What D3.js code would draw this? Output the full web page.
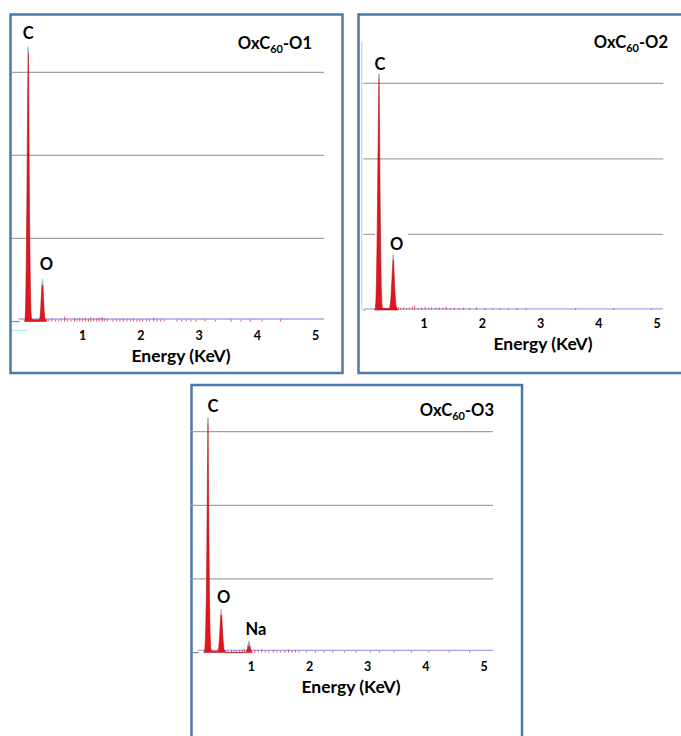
<!DOCTYPE html>
<html><head><meta charset="utf-8">
<script src="https://cdn.jsdelivr.net/npm/d3@7"></script>
<style>
body{margin:0;background:#fff}
svg{display:block}
text{font-family:Lato,"Open Sans",sans-serif;font-weight:700;fill:#000}
</style>
</head><body>
<svg id="chart" width="681" height="736"></svg>
<script>
// ---------- data ----------
const energyTicks = [1, 2, 3, 4, 5];
const gridCounts = [1000, 2000, 3000];
const sampleNames = ["O1", "O2", "O3"];
const axisTitle = "Energy (KeV)";

// spectra: [energy keV, counts]
const spectrumO1 = [[0.0,0],[0.01,20],[0.018,140],[0.026,480],[0.034,950],[0.042,1550],[0.05,2350],[0.058,3000],[0.065,3300],[0.071,2950],[0.078,2100],[0.086,1350],[0.094,800],[0.102,400],[0.11,130],[0.12,30],[0.16,20],[0.22,20],[0.26,25],[0.27,70],[0.28,170],[0.29,320],[0.3,450],[0.31,500],[0.317,440],[0.325,300],[0.335,150],[0.345,60],[0.357,25],[0.38,0]];
const spectrumO2 = [[0.15,0],[0.165,20],[0.175,110],[0.185,400],[0.195,900],[0.205,1600],[0.217,2500],[0.228,3120],[0.237,2500],[0.247,1500],[0.257,800],[0.267,300],[0.277,80],[0.288,20],[0.35,20],[0.41,20],[0.423,80],[0.436,200],[0.449,390],[0.461,590],[0.473,730],[0.483,570],[0.494,360],[0.506,180],[0.518,70],[0.53,25],[0.55,0]];
const spectrumO3 = [[0.18,0],[0.198,20],[0.208,110],[0.218,360],[0.228,820],[0.237,1500],[0.246,2400],[0.256,3180],[0.264,2400],[0.273,1400],[0.282,700],[0.292,260],[0.302,70],[0.314,20],[0.37,20],[0.428,20],[0.44,70],[0.453,190],[0.465,360],[0.476,510],[0.485,580],[0.494,480],[0.505,310],[0.516,160],[0.528,60],[0.54,20],[0.56,0],[0.9,0],[0.92,20],[0.935,60],[0.948,120],[0.96,150],[0.972,110],[0.985,60],[1.0,20],[1.02,0]];

// small background spikes: [energy keV, counts]
const noiseO1 = [[0.38,30],[0.42,20],[0.47,35],[0.53,25],[0.58,20],[0.63,30],[0.69,60],[0.74,25],[0.8,20],[0.86,40],[0.9,30],[0.95,45],[1.0,35],[1.05,40],[1.1,30],[1.14,50],[1.19,40],[1.24,35],[1.28,45],[1.33,55],[1.37,40],[1.42,30],[1.52,25],[1.58,30],[1.64,25],[1.7,35],[1.76,30],[1.82,25],[1.87,35],[1.93,25],[1.98,30],[2.03,25],[2.1,30],[2.15,25],[2.22,45],[2.28,30],[2.34,25],[2.4,20],[2.62,25],[2.7,20],[2.78,25],[2.86,20],[2.95,20],[3.1,25],[3.28,20],[3.55,25],[3.72,20],[3.88,25],[4.08,20],[4.4,25]];
const noiseO2 = [[0.56,40],[0.6,30],[0.65,35],[0.7,25],[0.75,30],[0.8,45],[0.84,60],[0.9,30],[0.96,35],[1.02,40],[1.08,30],[1.13,35],[1.2,30],[1.26,35],[1.32,30],[1.38,40],[1.45,25],[1.52,30],[1.6,25],[1.68,30],[1.78,25],[1.9,30],[2.05,25],[2.18,20],[2.3,25],[2.45,20],[2.6,25],[2.75,20],[3.6,25],[4.25,20],[4.9,20]];
const noiseO3 = [[0.56,30],[0.6,25],[0.66,35],[0.7,25],[0.74,30],[0.8,35],[0.85,30],[0.88,50],[1.06,40],[1.12,30],[1.18,45],[1.24,30],[1.3,25],[1.38,35],[1.44,30],[1.5,25],[1.58,30],[1.64,40],[1.7,35],[1.76,30],[1.82,25],[1.95,20],[2.1,25],[2.25,20],[2.4,25],[2.6,20],[2.8,25],[3.05,20],[3.2,20],[3.45,25],[3.75,20],[4.05,20],[4.4,20],[4.75,20]];

// flat background trace: [energy keV, counts]
const backgroundO1 = [[-0.1,30],[5.15,30]];
const backgroundO2 = [[-0.02,15],[5.1,15]];
const backgroundO3 = [[0.08,30],[5.15,30]];

// element labels: [element, peak energy keV]
const labelsO1 = [["C",0.065],["O",0.31]];
const labelsO2 = [["C",0.228],["O",0.473]];
const labelsO3 = [["C",0.256],["O",0.485],["Na",0.96]];

// ---------- layout ----------
const layouts = [
  {frame:[10.5,14.5,332,358.5], plotL:12, plotR:324, x0:24.5, x5:315.5, zeroY:321.5, topY:72.3,
   titleX:312, titleY:48.5, energyX:181, offs:[[0,8],[4,9.5]], vAxis:false, stubEnd:-0.1, cyan:true, oBox:null},
  {frame:[358.5,14.5,340,358.5], plotL:363.3, plotR:663.3, x0:365.7, x5:657.2, zeroY:310, topY:83.3,
   titleX:668, titleY:48, energyX:543, offs:[[1,4.5],[3.4,5]], vAxis:true, stubEnd:-0.02, cyan:false, oBox:[375,408]},
  {frame:[191.5,385,330.5,380], plotL:191, plotR:493, x0:193.1, x5:484.1, zeroY:652.6, topY:431.7,
   titleX:494, titleY:416, energyX:351, offs:[[5,6],[2.4,6.7],[7,6.7]], vAxis:false, stubEnd:0.08, cyan:false, oBox:null}
];
const spectra = [spectrumO1, spectrumO2, spectrumO3];
const noises = [noiseO1, noiseO2, noiseO3];
const backgrounds = [backgroundO1, backgroundO2, backgroundO3];
const labelSets = [labelsO1, labelsO2, labelsO3];

const svg = d3.select("#chart");

layouts.forEach((L, i) => {
  const g = svg.append("g");
  const x = d3.scaleLinear().domain([0, 5]).range([L.x0, L.x5]);
  const y = d3.scaleLinear().domain([0, 3000]).range([L.zeroY, L.topY]);

  // frame
  g.append("rect").attr("x", L.frame[0]).attr("y", L.frame[1])
    .attr("width", L.frame[2]).attr("height", L.frame[3])
    .attr("fill", "#fff").attr("stroke", "#4a78ab").attr("stroke-width", 2.5);

  // left axis (panel 2)
  if (L.vAxis) {
    g.append("line").attr("x1", L.plotL - 1.5).attr("x2", L.plotL - 1.5)
      .attr("y1", 41.5).attr("y2", L.zeroY).attr("stroke", "#b9c6d6").attr("stroke-width", 1);
  }

  // grid lines
  g.selectAll(".grid").data(gridCounts).join("line")
    .attr("x1", L.plotL).attr("x2", L.plotR)
    .attr("y1", d => y(d)).attr("y2", d => y(d))
    .attr("stroke", "#a3a3a3").attr("stroke-width", 1.3);

  if (L.oBox) {
    g.append("rect").attr("x", L.oBox[0]).attr("y", y(1000) - 4)
      .attr("width", L.oBox[1] - L.oBox[0]).attr("height", 8).attr("fill", "#fff");
  }

  // axis stub at zero
  g.append("line").attr("x1", L.plotL).attr("x2", x(L.stubEnd) + 1)
    .attr("y1", y(0)).attr("y2", y(0)).attr("stroke", "#8a8a8a").attr("stroke-width", 1.2);
  if (L.cyan) {
    g.append("line").attr("x1", L.plotL).attr("x2", x(0.05))
      .attr("y1", y(0) + 9).attr("y2", y(0) + 9).attr("stroke", "#bde9f2").attr("stroke-width", 1.5);
  }

  // background trace
  g.append("path").datum(backgrounds[i])
    .attr("d", d3.line().x(d => x(d[0])).y(d => y(d[1])))
    .attr("stroke", "#a4a4e6").attr("stroke-width", 1.4).attr("fill", "none");

  // noise spikes
  g.selectAll(".noise").data(noises[i]).join("line")
    .attr("x1", d => x(d[0])).attr("x2", d => x(d[0]))
    .attr("y1", y(0)).attr("y2", d => y(d[1]))
    .attr("stroke", "#e0303a").attr("stroke-width", 1).attr("opacity", 0.8);

  // spectrum
  const area = d3.area().x(d => x(d[0])).y0(y(0)).y1(d => y(d[1]));
  g.append("path").datum(spectra[i]).attr("d", area)
    .attr("fill", "#e3141c").attr("stroke", "#b0101a").attr("stroke-width", 0.6);

  // peak labels and marker tips
  labelSets[i].forEach((lab, k) => {
    const pk = d3.max(spectra[i].filter(d => Math.abs(d[0] - lab[1]) < 0.03), d => d[1]);
    g.append("line").attr("x1", x(lab[1])).attr("x2", x(lab[1]))
      .attr("y1", y(pk) - 1).attr("y2", y(pk) + 5)
      .attr("stroke", "#8fdde8").attr("stroke-width", 1.2);
    g.append("text").attr("x", x(lab[1]) + L.offs[k][0]).attr("y", y(pk) - L.offs[k][1])
      .attr("text-anchor", "middle").attr("font-size", 16.5).text(lab[0]);
  });

  // x ticks
  g.selectAll(".tick").data(energyTicks).join("text")
    .attr("x", d => x(d)).attr("y", y(0) + 18)
    .attr("text-anchor", "middle").attr("font-size", 12.5).text(d => d);

  // axis title
  g.append("text").attr("x", L.energyX).attr("y", y(0) + 40)
    .attr("text-anchor", "middle").attr("font-size", 17.5).text(axisTitle);

  // panel title OxC60-On
  const t = g.append("text").attr("x", L.titleX).attr("y", L.titleY)
    .attr("text-anchor", "end").attr("font-size", 16.5);
  t.append("tspan").text("OxC");
  t.append("tspan").attr("dy", 4).attr("font-size", 11).text("60");
  t.append("tspan").attr("dy", -4).text("-" + sampleNames[i]);
});
</script>
</body></html>
